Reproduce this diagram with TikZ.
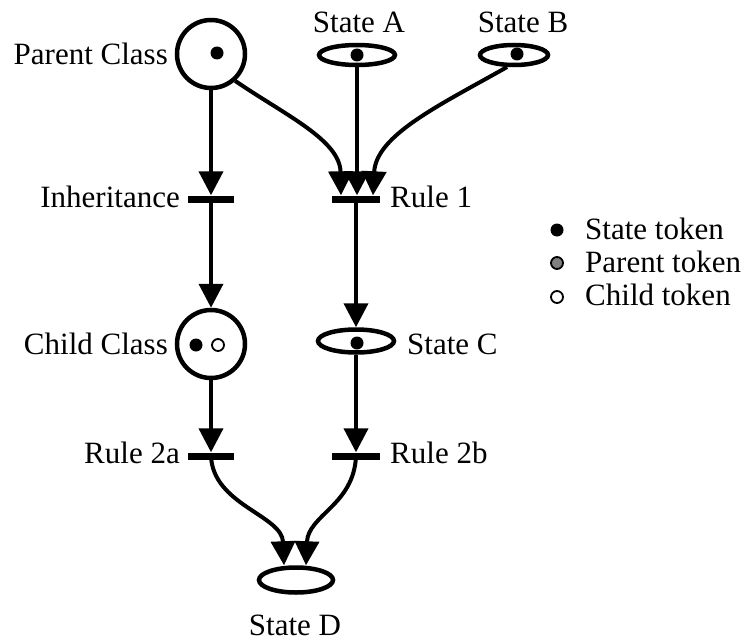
\documentclass[tikz,border=0pt]{standalone}
\usepackage{fontspec}
\setmainfont{Liberation Serif}
\usetikzlibrary{arrows.meta,shapes.geometric}

\tikzset{
  place/.style={draw, circle, line width=4.5pt, minimum size=68pt, inner sep=0pt},
  stateplace/.style={draw, ellipse, line width=4.5pt, inner sep=0pt},
  transition/.style={fill=black, rectangle, minimum height=7pt, inner sep=0pt},
  arc/.style={line width=4pt, -{Triangle[length=24pt 0 0,width=24pt 0 0]}},
  label/.style={font=\fontsize{31}{36}\selectfont, inner sep=0pt},
  token/.style={circle, fill=black, minimum size=13pt, inner sep=0pt},
  parenttoken/.style={circle, draw=black, line width=1.8pt, fill=gray, minimum size=12pt, inner sep=0pt},
  childtoken/.style={circle, draw=black, line width=1.8pt, fill=white, minimum size=12pt, inner sep=0pt},
}

\begin{document}
\begin{tikzpicture}[x=1pt, y=-1pt]
\useasboundingbox (0,0) rectangle (744,642);

% places
\node[place] (parent) at (211,54) {};
\node[place] (child) at (211,344) {};
\node[stateplace, minimum width=76pt, minimum height=20pt] (sA) at (357,55) {};
\node[stateplace, minimum width=68pt, minimum height=20pt] (sB) at (514,55) {};
\node[stateplace, minimum width=76pt, minimum height=23pt] (sC) at (356,341) {};
\node[stateplace, minimum width=74pt, minimum height=25pt] (sD) at (296,580) {};

% tokens inside places
\node[token] (tp) at (217,53) {};
\node[token] (ta) at (357,55) {};
\node[token] (tb) at (517,54) {};
\node[token] (tc) at (357,343) {};
\node[token] (tch1) at (196,345) {};
\node[childtoken] (tch2) at (218,345) {};

% transitions
\node[transition, minimum width=46pt] (inh) at (211,199) {};
\node[transition, minimum width=48pt] (r1) at (356,199) {};
\node[transition, minimum width=46pt] (r2a) at (211,456) {};
\node[transition, minimum width=48pt] (r2b) at (356,456) {};

% arcs
\draw[arc] (parent.south) -- (inh.north);
\draw[arc] (parent.-48) .. controls (285,115) and (340,140) .. ([xshift=-15pt]r1.north);
\draw[arc] (sA.south) -- (sA.south |- r1.north);
\draw[arc] (sB.-120) .. controls (440,105) and (376,135) .. ([xshift=17pt]r1.north);
\draw[arc] (inh.center) -- (child.north);
\draw[arc] (r1.center) -- (sC.north);
\draw[arc] (child.south) -- (r2a.north);
\draw[arc] (sC.south) -- (sC.south |- r2b.north);
\draw[arc] (r2a.center) .. controls (213,505) and (282,515) .. ([xshift=-12pt]sD.north);
\draw[arc] (r2b.center) .. controls (354,505) and (308,515) .. ([xshift=10pt]sD.north);

% labels
\node[label, anchor=base east] (lparent) at (168,64) {Parent Class};
\node[label, anchor=base] (lA) at (359,33) {State A};
\node[label, anchor=base] (lB) at (523,33) {State B};
\node[label, anchor=base east] (linh) at (180,207) {Inheritance};
\node[label, anchor=base west] (lr1) at (390,207) {Rule 1};
\node[label, anchor=base east] (lchild) at (168,354) {Child Class};
\node[label, anchor=base west] (lC) at (407,354) {State C};
\node[label, anchor=base east] (lr2a) at (180,463) {Rule 2a};
\node[label, anchor=base west] (lr2b) at (390,463) {Rule 2b};
\node[label, anchor=base] (lD) at (295,635) {State D};

% legend
\node[token] (k1) at (557,230) {};
\node[parenttoken] (k2) at (557,263) {};
\node[childtoken] (k3) at (557,297) {};
\node[label, anchor=base west] (k1t) at (585,239) {State token};
\node[label, anchor=base west] (k2t) at (585,272) {Parent token};
\node[label, anchor=base west] (k3t) at (585,305) {Child token};
\end{tikzpicture}
\end{document}
